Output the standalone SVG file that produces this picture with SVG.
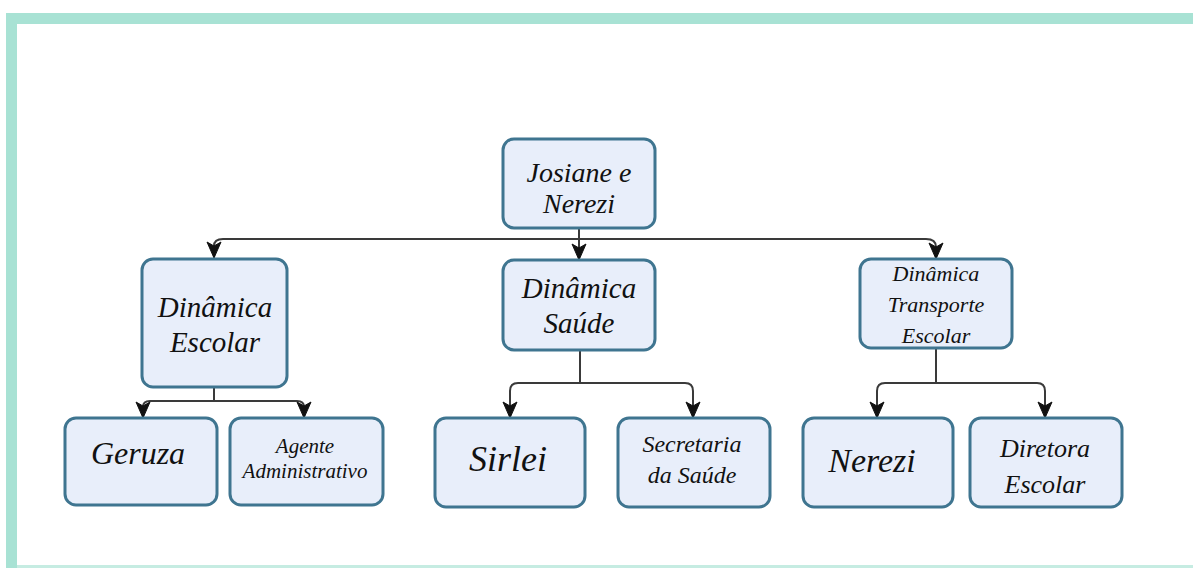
<svg xmlns="http://www.w3.org/2000/svg" width="1193" height="568" viewBox="0 0 1193 568">
<defs>
<marker id="arr" viewBox="0 0 16 16" refX="15" refY="8" markerWidth="16" markerHeight="16" markerUnits="userSpaceOnUse" orient="auto" overflow="visible">
<path d="M0,1 L16,8 L0,15 L4,8 Z" fill="#111" stroke="#111" stroke-width="1"/>
</marker>
<style>
.box{fill:#e8eefa;stroke:#3f7590;stroke-width:3}
.t{font-family:"Liberation Serif","DejaVu Serif",serif;font-style:italic;fill:#111;text-anchor:middle}
.c{fill:none;stroke:#3a3a3a;stroke-width:2;marker-end:url(#arr)}
.l{fill:none;stroke:#3a3a3a;stroke-width:2}
</style>
</defs>
<rect x="0" y="0" width="1193" height="568" fill="#fff"/>
<rect x="6" y="13" width="1187" height="11" fill="#a8e2d4"/>
<rect x="6" y="13" width="11" height="555" fill="#a8e2d4"/>
<rect x="17" y="565" width="1176" height="3" fill="#c6ece2"/>
<g id="connectors">
<path class="c" d="M579,228 V259"/>
<path class="c" d="M579,239 H223 Q214,239 214,246 V257"/>
<path class="c" d="M579,239 H926 Q936,239 936,247 V258"/>
<path class="l" d="M214,387 V401"/>
<path class="c" d="M214,401 H150 Q143,401 143,407 V417"/>
<path class="c" d="M214,401 H297 Q304,401 304,407 V417"/>
<path class="l" d="M580,350 V383"/>
<path class="c" d="M580,383 H518 Q510,383 510,391 V417"/>
<path class="c" d="M580,383 H685 Q693,383 693,391 V417"/>
<path class="l" d="M936,348 V383"/>
<path class="c" d="M936,383 H885 Q877,383 877,391 V417"/>
<path class="c" d="M936,383 H1037 Q1045,383 1045,391 V417"/>
</g>
<g id="n-josiane">
<rect class="box" x="503" y="139" width="152" height="89" rx="11"/>
<text class="t" x="579" y="182" font-size="28">Josiane e</text>
<text class="t" x="579" y="213" font-size="28">Nerezi</text>
</g>
<g id="n-escolar">
<rect class="box" x="142" y="259" width="145" height="128" rx="11"/>
<text class="t" x="215" y="317" font-size="29">Dinâmica</text>
<text class="t" x="215" y="352" font-size="29">Escolar</text>
</g>
<g id="n-saude">
<rect class="box" x="503" y="260" width="152" height="90" rx="11"/>
<text class="t" x="579" y="298" font-size="29">Dinâmica</text>
<text class="t" x="579" y="333" font-size="29">Saúde</text>
</g>
<g id="n-transporte">
<rect class="box" x="860" y="259" width="152" height="89" rx="11"/>
<text class="t" x="936" y="281" font-size="22">Dinâmica</text>
<text class="t" x="936" y="312" font-size="22">Transporte</text>
<text class="t" x="936" y="343" font-size="22">Escolar</text>
</g>
<g id="n-geruza">
<rect class="box" x="65" y="418" width="152" height="87" rx="11"/>
<text class="t" x="138" y="464" font-size="32">Geruza</text>
</g>
<g id="n-agente">
<rect class="box" x="230" y="418" width="153" height="87" rx="11"/>
<text class="t" x="305" y="453" font-size="21">Agente</text>
<text class="t" x="305" y="478" font-size="21">Administrativo</text>
</g>
<g id="n-sirlei">
<rect class="box" x="435" y="418" width="150" height="89" rx="11"/>
<text class="t" x="508" y="471" font-size="36">Sirlei</text>
</g>
<g id="n-secretaria">
<rect class="box" x="618" y="418" width="152" height="89" rx="11"/>
<text class="t" x="692" y="452" font-size="24">Secretaria</text>
<text class="t" x="692" y="483" font-size="24">da Saúde</text>
</g>
<g id="n-nerezi">
<rect class="box" x="803" y="418" width="150" height="89" rx="11"/>
<text class="t" x="872" y="472" font-size="34">Nerezi</text>
</g>
<g id="n-diretora">
<rect class="box" x="970" y="418" width="152" height="89" rx="11"/>
<text class="t" x="1045" y="457" font-size="26">Diretora</text>
<text class="t" x="1045" y="493" font-size="26">Escolar</text>
</g>
</svg>
